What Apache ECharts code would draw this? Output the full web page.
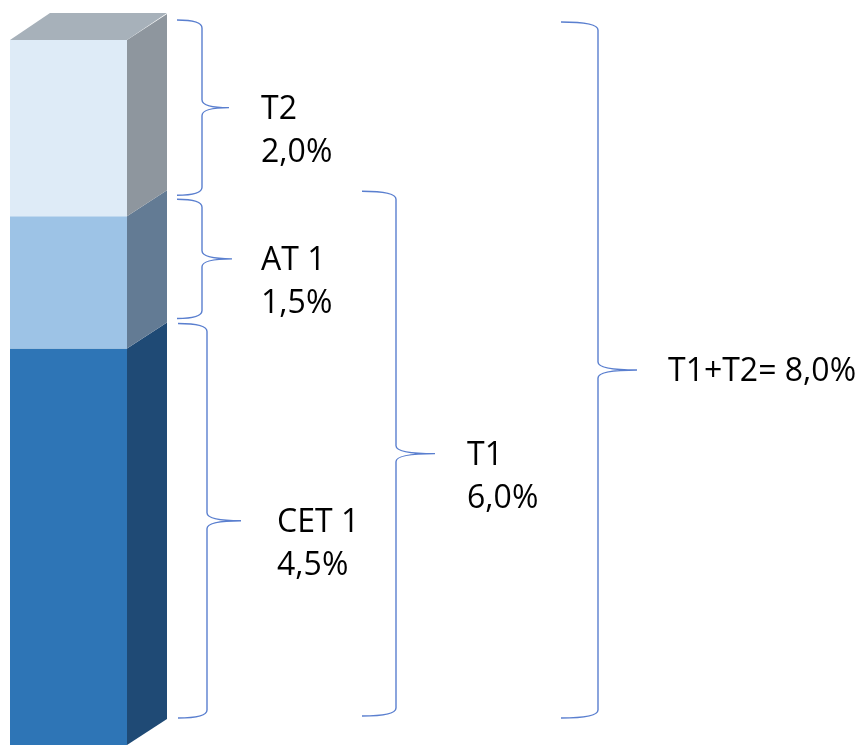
<!DOCTYPE html>
<html>
<head>
<meta charset="utf-8">
<script src="https://cdn.jsdelivr.net/npm/echarts@6/dist/echarts.min.js"></script>
<style>html,body{margin:0;padding:0;background:#fff}#c{width:862px;height:745px}</style>
</head>
<body>
<div id="c"></div>
<script>
// ---- data ----
const categories = ['Kapital'];
const segmentNames = ['CET 1', 'AT 1', 'T2'];
const segmentValues = [4.5, 1.5, 2.0];
const groupNames = ['T1', 'T1+T2'];
const groupSegmentCounts = [2, 3];   // first n segments included in each group

// ---- styles / layout ----
const frontColors = ['#2e75b6', '#9dc3e6', '#deebf7'];
const sideColors = ['#1f4a75', '#637b94', '#8e969e'];
const topColor = '#a7b1ba';
const depth = { dx: 40, dy: -26, topDy: -27 };
const braceColor = '#5a7fcf';
// per brace: xl (end hooks), xv (vertical), xt (tip), text x, top offset, bottom offset, separator
const braceLayout = [
  { xl: 178, xv: 207, xt: 241, tx: 277, pt: 1, pb: -1, sep: '\n' },   // CET 1
  { xl: 177, xv: 202, xt: 232, tx: 261, pt: 9, pb: -4, sep: '\n' },   // AT 1
  { xl: 177, xv: 202, xt: 229, tx: 261, pt: 6, pb: 5, sep: '\n' },    // T2
  { xl: 362, xv: 396, xt: 435, tx: 467, pt: 1, pb: -3, sep: '\n' },   // T1
  { xl: 561, xv: 598, xt: 637, tx: 668, pt: 8, pb: -1, sep: '= ' }    // T1+T2
];
const textShift = 2;

const fmt = v => v.toFixed(1).replace('.', ',') + '%';

// stacked segments
const bases = [];
let acc = 0;
segmentValues.forEach(v => { bases.push(acc); acc += v; });
const segData = segmentValues.map((v, i) => [0, bases[i], bases[i] + v, i]);

// braces: segments then groups
const braces = [];
segmentValues.forEach((v, i) => braces.push({ from: bases[i], to: bases[i] + v, name: segmentNames[i], value: v }));
groupNames.forEach((g, j) => {
  const n = groupSegmentCounts[j];
  let s = 0; for (let k = 0; k < n; k++) s += segmentValues[k];
  braces.push({ from: 0, to: s, name: g, value: s });
});
const braceData = braces.map((b, i) => [0, b.from, b.to, i]);

const chart = echarts.init(document.getElementById('c'));
chart.setOption({
  animation: false,
  grid: { left: 10, top: 40, width: 117, height: 709, containLabel: false },
  xAxis: { type: 'category', data: categories, show: false, boundaryGap: true },
  yAxis: { type: 'value', min: 0, max: 8, show: false },
  series: [
    {
      type: 'custom',
      data: segData,
      encode: { x: 0, y: [1, 2] },
      clip: false,
      renderItem: function (params, api) {
        const i = api.value(3);
        const bw = api.size([1, 0])[0];
        const pB = api.coord([api.value(0), api.value(1)]);
        const pT = api.coord([api.value(0), api.value(2)]);
        const xL = pB[0] - bw / 2, xR = pB[0] + bw / 2;
        const yB = pB[1], yT = pT[1];
        const children = [
          { type: 'rect', shape: { x: xL, y: yT, width: bw, height: yB - yT }, style: { fill: frontColors[i] } },
          { type: 'polygon', shape: { points: [[xR, yT], [xR + depth.dx, yT + depth.dy], [xR + depth.dx, yB + depth.dy], [xR, yB]] }, style: { fill: sideColors[i] } }
        ];
        if (i === segmentValues.length - 1) {
          children.push({ type: 'polygon', shape: { points: [[xL, yT], [xL + depth.dx, yT + depth.topDy], [xR + depth.dx, yT + depth.topDy], [xR, yT]] }, style: { fill: topColor } });
        }
        return { type: 'group', children: children };
      }
    },
    {
      type: 'custom',
      data: braceData,
      encode: { x: 0, y: [1, 2] },
      clip: false,
      z: 5,
      renderItem: function (params, api) {
        const i = api.value(3);
        const L = braceLayout[i];
        const b = braces[i];
        const top = api.coord([0, api.value(2)])[1] + depth.dy + L.pt;
        const bot = api.coord([0, api.value(1)])[1] + depth.dy + L.pb;
        const mid = (top + bot) / 2;
        const r = 8;
        const xl = L.xl, xv = L.xv, xt = L.xt;
        const d = `M${xl},${top} Q${xv},${top} ${xv},${top + r} L${xv},${mid - r} Q${xv},${mid} ${xt},${mid} M${xt},${mid} Q${xv},${mid} ${xv},${mid + r} L${xv},${bot - r} Q${xv},${bot} ${xl},${bot}`;
        return {
          type: 'group',
          children: [
            { type: 'path', shape: { pathData: d }, style: { fill: null, stroke: braceColor, lineWidth: 1.4 } },
            { type: 'text', x: L.tx, y: mid - 21.5 + textShift, style: { text: b.name + L.sep + fmt(b.value), fill: '#000', font: '32px "Open Sans"', lineHeight: 43, verticalAlign: 'top', align: 'left' } }
          ]
        };
      }
    }
  ]
});
</script>
</body>
</html>
